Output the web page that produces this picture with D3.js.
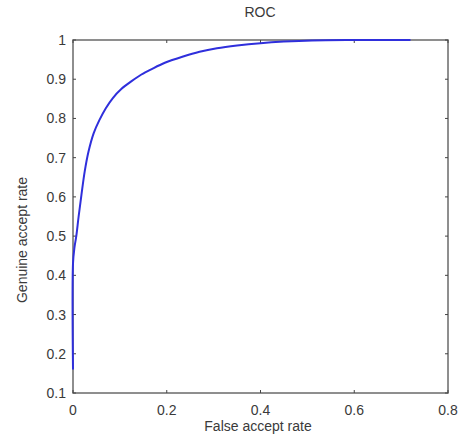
<!DOCTYPE html>
<html>
<head>
<meta charset="utf-8">
<script src="https://d3js.org/d3.v7.min.js"></script>
<style>
  body { margin: 0; background: #fff; }
  svg text { font-family: "Liberation Sans", Arial, sans-serif; fill: #3a3a3a; }
</style>
</head>
<body>
<svg id="chart" width="464" height="445"></svg>
<script>
// ROC curve values
var far = [0, 0, 0.003, 0.007, 0.012, 0.018, 0.025, 0.033, 0.044, 0.056, 0.07, 0.085, 0.103, 0.125, 0.146, 0.168, 0.196, 0.235, 0.27, 0.307, 0.35, 0.40, 0.45, 0.51, 0.6, 0.72];
var gar = [0.16, 0.43, 0.47, 0.50, 0.55, 0.605, 0.665, 0.715, 0.762, 0.795, 0.826, 0.852, 0.875, 0.895, 0.912, 0.926, 0.942, 0.958, 0.97, 0.979, 0.986, 0.992, 0.996, 0.999, 1, 1];
var xTicks = [0, 0.2, 0.4, 0.6, 0.8];
var yTicks = [0.1, 0.2, 0.3, 0.4, 0.5, 0.6, 0.7, 0.8, 0.9, 1];

var pLeft = 73, pRight = 448, pTop = 40, pBottom = 393;
var svg = d3.select("#chart");

var x = d3.scaleLinear().domain([0, 0.8]).range([pLeft, pRight]);
var y = d3.scaleLinear().domain([0.1, 1]).range([pBottom, pTop]);

// box
svg.append("rect")
    .attr("x", pLeft).attr("y", pTop)
    .attr("width", pRight - pLeft).attr("height", pBottom - pTop)
    .attr("fill", "none").attr("stroke", "#6a6a6a").attr("stroke-width", 1.5);

// ticks (inside, mirrored)
var tl = 3;
xTicks.forEach(function(t) {
    svg.append("line").attr("x1", x(t)).attr("x2", x(t)).attr("y1", pBottom).attr("y2", pBottom - tl).attr("stroke", "#444");
    svg.append("line").attr("x1", x(t)).attr("x2", x(t)).attr("y1", pTop).attr("y2", pTop + tl).attr("stroke", "#444");
    svg.append("text").attr("x", x(t)).attr("y", pBottom + 22)
        .attr("text-anchor", "middle").attr("font-size", 14)
        .text(d3.format("")(t));
});
yTicks.forEach(function(t) {
    svg.append("line").attr("x1", pLeft).attr("x2", pLeft + tl).attr("y1", y(t)).attr("y2", y(t)).attr("stroke", "#444");
    svg.append("line").attr("x1", pRight).attr("x2", pRight - tl).attr("y1", y(t)).attr("y2", y(t)).attr("stroke", "#444");
    svg.append("text").attr("x", pLeft - 7).attr("y", y(t) + 5)
        .attr("text-anchor", "end").attr("font-size", 14)
        .text(d3.format("")(t));
});

// curve
var line = d3.line()
    .x(function(d, i) { return x(far[i]); })
    .y(function(d, i) { return y(gar[i]); })
    .curve(d3.curveCatmullRom.alpha(0.5));

svg.append("path")
    .attr("d", line(far))
    .attr("fill", "none")
    .attr("stroke", "#2f2fdc")
    .attr("stroke-width", 2);

// labels
svg.append("text").attr("x", 260).attr("y", 17)
    .attr("text-anchor", "middle").attr("font-size", 14).text("ROC");
svg.append("text").attr("x", 258).attr("y", 431)
    .attr("text-anchor", "middle").attr("font-size", 14).text("False accept rate");
svg.append("text")
    .attr("transform", "translate(27,240) rotate(-90)")
    .attr("text-anchor", "middle").attr("font-size", 14).text("Genuine accept rate");
</script>
</body>
</html>
